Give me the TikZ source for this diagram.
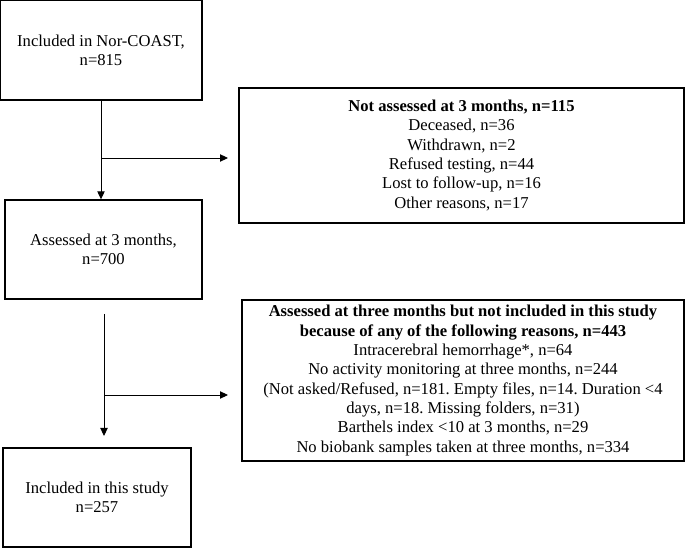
\documentclass[tikz,border=0pt]{standalone}
\usepackage{fontspec}
\setmainfont{Liberation Serif}
\usetikzlibrary{positioning, arrows.meta}
\frenchspacing

\begin{document}
\begin{tikzpicture}[x=0.75pt, y=-0.75pt, font=\fontsize{12.45}{14.5}\selectfont]
      \useasboundingbox (0,0) rectangle (685,548);
      \tikzstyle{box} = [draw, line width=1pt, align=center, inner sep=0pt]
      \tikzstyle{flow} = [line width=0.7pt, -{Triangle[length=6pt, width=5.5pt]}]

      % left column
      \node[box, minimum width=151.5pt, minimum height=75pt] (nor) at (101,50) {Included in Nor-COAST,\\n=815};
      \node[box, minimum width=147.75pt, minimum height=74.25pt] (assessed) at (103.5,249.5) {Assessed at 3 months,\\n=700};
      \node[box, minimum width=141pt, minimum height=74.25pt] (study) at (97,497.5) {Included in this study\\n=257};

      % right column
      \node[box, minimum width=333.75pt, minimum height=101.25pt] (notassessed) at (461.5,155.5)
        {\textbf{Not assessed at 3 months, n=115}\\Deceased, n=36\\Withdrawn, n=2\\Refused testing, n=44\\Lost to follow-up, n=16\\Other reasons, n=17};
      \node[box, minimum width=331.5pt, minimum height=120.75pt] (excluded) at (463,380.5)
        {\textbf{Assessed at three months but not included in this study}\\
         \textbf{because of any of the following reasons, n=443}\\
         Intracerebral hemorrhage*, n=64\\
         No activity monitoring at three months, n=244\\
         (Not asked/Refused, n=181. Empty files, n=14. Duration <4\\
         days, n=18. Missing folders, n=31)\\
         Barthels index <10 at 3 months, n=29\\
         No biobank samples taken at three months, n=334};

      \coordinate (split1) at (nor.south |- 0,158);
      \coordinate (end1) at (228,158);
      \coordinate (start2) at (104,314);
      \coordinate (split2) at (104,395);
      \coordinate (end2) at (228,395);
      \coordinate (stop2) at (104,436);

      \draw[flow] (nor.south) -- (nor.south |- assessed.north);
      \draw[flow] (split1) -- (end1);
      \draw[flow] (start2) -- (stop2);
      \draw[flow] (split2) -- (end2);
    \end{tikzpicture}
\end{document}
